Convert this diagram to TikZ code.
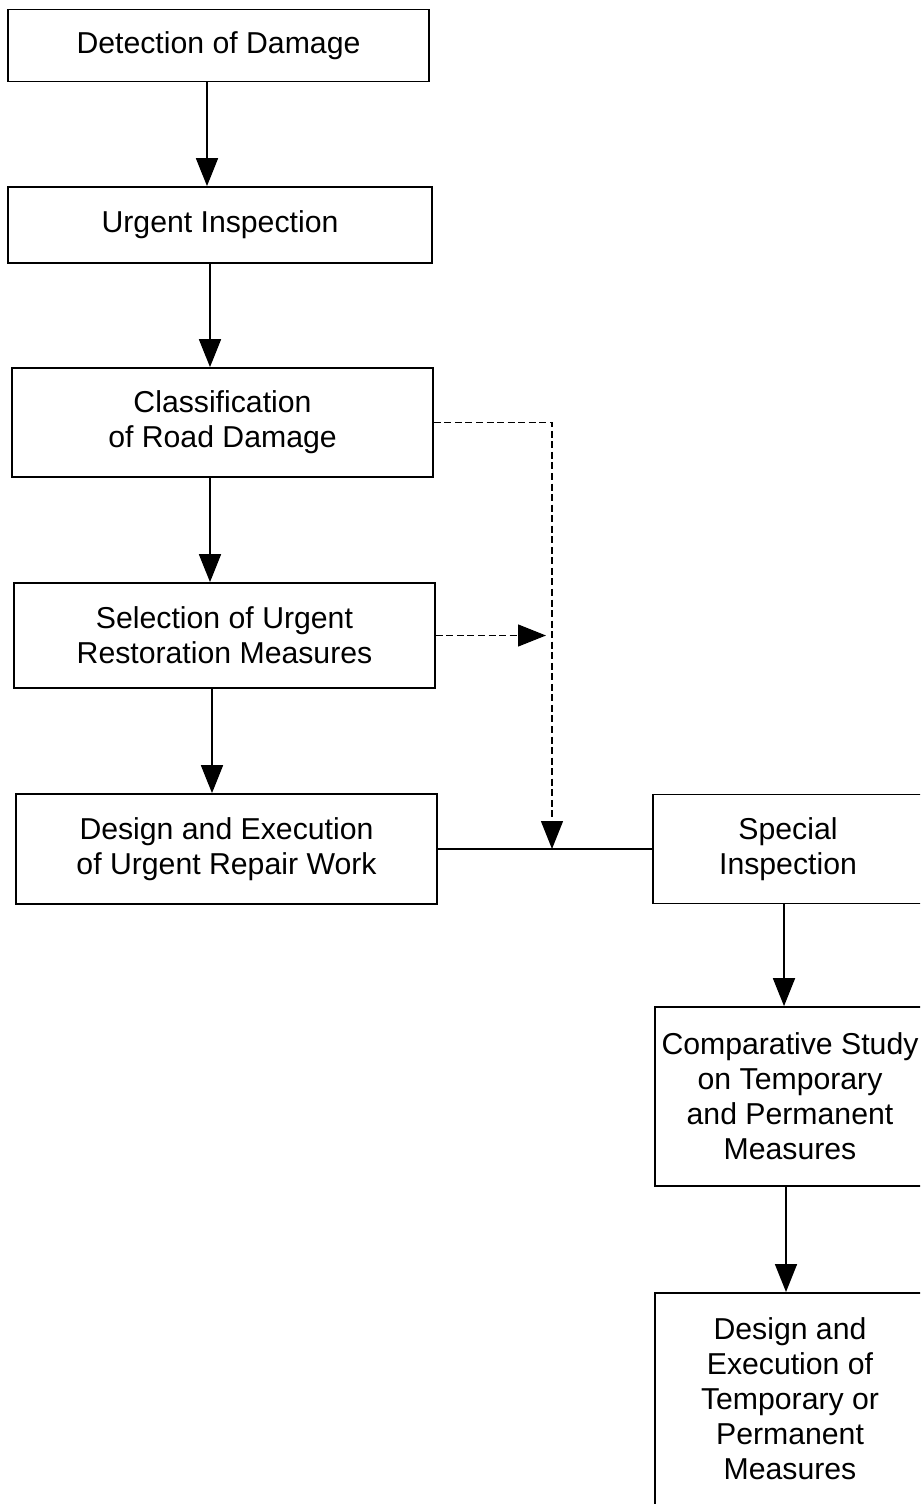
\documentclass[tikz,border=0pt]{standalone}
\usepackage{fontspec}
\setmainfont{Liberation Sans}
\usetikzlibrary{arrows.meta}

\begin{document}
\begin{tikzpicture}[x=0.02cm,y=-0.02cm,
		box/.style={draw,line width=1pt,align=center,inner sep=0pt,font=\fontsize{17.2}{19.9}\selectfont},
		flow/.style={line width=1pt,-{Triangle[length=0.56cm,width=0.44cm]}},
		dashflow/.style={flow,line width=0.7pt,dash pattern=on 4pt off 2pt}]
		\useasboundingbox (0,0) rectangle (920,1504);
		\clip (0,0) rectangle (920,1504);
		
		\node[box,minimum width=8.42cm,minimum height=1.44cm] (det) at (218.5,45.5) {Detection of Damage};
		\node[box,minimum width=8.48cm,minimum height=1.52cm] (insp) at (220,225) {Urgent Inspection};
		\node[box,minimum width=8.42cm,minimum height=2.18cm] (cls) at (222.5,422.5) {Classification\\of Road Damage};
		\node[box,minimum width=8.42cm,minimum height=2.1cm] (sel) at (224.5,635.5) {Selection of Urgent\\Restoration Measures};
		\node[box,minimum width=8.42cm,minimum height=2.2cm] (des) at (226.5,849) {Design and Execution\\of Urgent Repair Work};
		
		\node[box,minimum width=5.4cm,minimum height=2.18cm] (spec) at (788,849) {Special\\Inspection};
		\node[box,minimum width=5.4cm,minimum height=3.58cm] (comp) at (790,1096.5) {Comparative Study\\on Temporary\\and Permanent\\Measures};
		\node[box,minimum width=5.4cm,anchor=north,inner ysep=0.5cm,text depth=6cm] (exe) at (790,1292) {Design and\\Execution of\\Temporary or\\Permanent\\Measures};
		
		\coordinate (merge) at (552,849);
		
		\draw[flow] ([xshift=-0.23cm]det.south) -- ([xshift=-0.23cm]det.south |- insp.north);
		\draw[flow] ([xshift=-0.2cm]insp.south) -- ([xshift=-0.2cm]insp.south |- cls.north);
		\draw[flow] ([xshift=-0.25cm]cls.south) -- ([xshift=-0.25cm]cls.south |- sel.north);
		\draw[flow] ([xshift=-0.25cm]sel.south) -- ([xshift=-0.25cm]sel.south |- des.north);
		
		\draw[line width=1pt] (des.east) -- (spec.west);
		\draw[dashflow] (cls.east) -- (cls.east -| merge) -- (merge);
		\draw[dashflow] (sel.east) -- ([xshift=-0.12cm]sel.east -| merge);
		
		\draw[flow] ([xshift=-0.08cm]spec.south) -- ([xshift=-0.08cm]spec.south |- comp.north);
		\draw[flow] ([xshift=-0.08cm]comp.south) -- ([xshift=-0.08cm]comp.south |- exe.north);
	\end{tikzpicture}
\end{document}
